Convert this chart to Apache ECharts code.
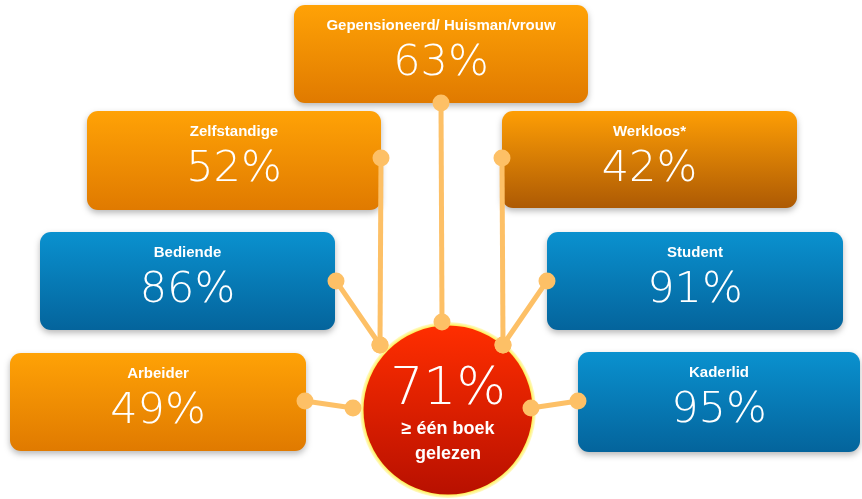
<!DOCTYPE html>
<html><head><meta charset="utf-8">
<script src="https://cdn.jsdelivr.net/npm/echarts@6/dist/echarts.min.js"></script>
<style>html,body{margin:0;padding:0;background:#fff}#c{width:862px;height:499px}</style>
</head><body><div id="c"></div>
<script>
// ---- data ----
const categories = ['Gepensioneerd/ Huisman/vrouw','Zelfstandige','Werkloos*','Bediende','Student','Arbeider','Kaderlid'];
const values = [63, 52, 42, 86, 91, 49, 95];
const centerValue = 71;
const centerLabel = ['≥ één boek', 'gelezen'];

// ---- layout (positions / sizes / styles, not data) ----
const boxRect = [[294,5,294,98],[87,111,294,99],[502,111,295,97],[40,232,295,98],[547,232,296,98],[10,353,296,98],[578,352,282,100]];
const boxStyle = ['orange','orange','orangeDark','blue','blue','orange','blue'];
const anchorBox = [[441,103],[381,158],[502,158],[336,281],[547,281],[305,401],[578,401]];
const anchorCircle = [[442,322],[380,345],[503,345],[380,345],[503,345],[353,408],[531,408]];
const circleCenter = [448, 410];
const circleR = 88;

const gradients = {
  orange: ['#FFA206', '#E07A00'],
  orangeDark: ['#FE9E05', '#AD5A04'],
  blue: ['#0A91CF', '#04649C']
};
const lineColor = '#FDC066';
const pctFont = '"DejaVu Sans", "Inter", sans-serif';
const lblFont = '"Liberation Sans", Arial, sans-serif';

const chart = echarts.init(document.getElementById('c'), null, {renderer: 'canvas'});

function lg(c) {
  return new echarts.graphic.LinearGradient(0,0,0,1,[{offset:0,color:c[0]},{offset:1,color:c[1]}]);
}

const boxData = categories.map((c,i)=>[boxRect[i][0], boxRect[i][1], values[i], i]);

chart.setOption({
  animation: false,
  grid: {left:0, right:0, top:0, bottom:0},
  xAxis: {type:'value', min:0, max:862, show:false},
  yAxis: {type:'value', min:0, max:499, inverse:true, show:false},
  series: [
    {
      type: 'custom', z: 2,
      data: boxData,
      renderItem: function(params, api) {
        const i = api.value(3);
        const p0 = api.coord([api.value(0), api.value(1)]);
        const p1 = api.coord([boxRect[i][0]+boxRect[i][2], boxRect[i][1]+boxRect[i][3]]);
        const w = p1[0]-p0[0], h = p1[1]-p0[1];
        const cx = p0[0] + w/2;
        return {
          type: 'group',
          children: [
            {type:'rect', shape:{x:p0[0], y:p0[1], width:w, height:h, r:11},
             style:{fill: lg(gradients[boxStyle[i]]), shadowBlur:6, shadowOffsetY:3, shadowColor:'rgba(0,0,0,0.28)'}},
            {type:'text', x:cx, y:p0[1]+21, style:{text: categories[i], fill:'#fff', font:'bold 15px '+lblFont, align:'center', verticalAlign:'middle'}},
            {type:'text', x:cx, y:p0[1]+59, style:{text: api.value(2)+'%', fill:'#fff', font:'200 43px '+pctFont, align:'center', verticalAlign:'middle'}}
          ]
        };
      }
    },
    {
      type: 'custom', z: 3,
      data: categories.map((c,i)=>[anchorBox[i][0], anchorBox[i][1], anchorCircle[i][0], anchorCircle[i][1]]),
      renderItem: function(params, api) {
        const a = api.coord([api.value(0), api.value(1)]);
        const b = api.coord([api.value(2), api.value(3)]);
        return {
          type:'group',
          children:[
            {type:'line', shape:{x1:a[0], y1:a[1], x2:b[0], y2:b[1]}, style:{stroke:lineColor, lineWidth:5}},
            {type:'circle', shape:{cx:a[0], cy:a[1], r:8.5}, style:{fill:lineColor}}
          ]
        };
      }
    },
    {
      type: 'custom', z: 4,
      data: [[circleCenter[0], circleCenter[1], centerValue]],
      renderItem: function(params, api) {
        const c = api.coord([api.value(0), api.value(1)]);
        const r = circleR;
        return {
          type:'group',
          children:[
            {type:'circle', shape:{cx:c[0], cy:c[1], r:r},
             style:{fill: new echarts.graphic.RadialGradient(0.5,0.5,0.5,[{offset:0.9,color:'#FFD000'},{offset:0.96,color:'#FFEE50'},{offset:1,color:'rgba(255,245,150,0.5)'}])}},
            {type:'circle', shape:{cx:c[0], cy:c[1], r:r-3.5},
             style:{fill: lg(['#FF2E00','#B81000'])}},
            {type:'text', x:c[0], y:c[1]-20, style:{text: api.value(2)+'%', fill:'#fff', font:'200 52px '+pctFont, align:'center', verticalAlign:'middle'}},
            {type:'text', x:c[0], y:c[1]+19, style:{text: centerLabel[0], fill:'#fff', font:'bold 18px '+lblFont, align:'center', verticalAlign:'middle'}},
            {type:'text', x:c[0], y:c[1]+44, style:{text: centerLabel[1], fill:'#fff', font:'bold 18px '+lblFont, align:'center', verticalAlign:'middle'}}
          ]
        };
      }
    },
    {
      type: 'custom', z: 5,
      data: categories.map((c,i)=>[anchorCircle[i][0], anchorCircle[i][1]]),
      renderItem: function(params, api) {
        const b = api.coord([api.value(0), api.value(1)]);
        return {type:'circle', shape:{cx:b[0], cy:b[1], r:8.5}, style:{fill:lineColor}};
      }
    }
  ]
});
</script>
</body></html>
